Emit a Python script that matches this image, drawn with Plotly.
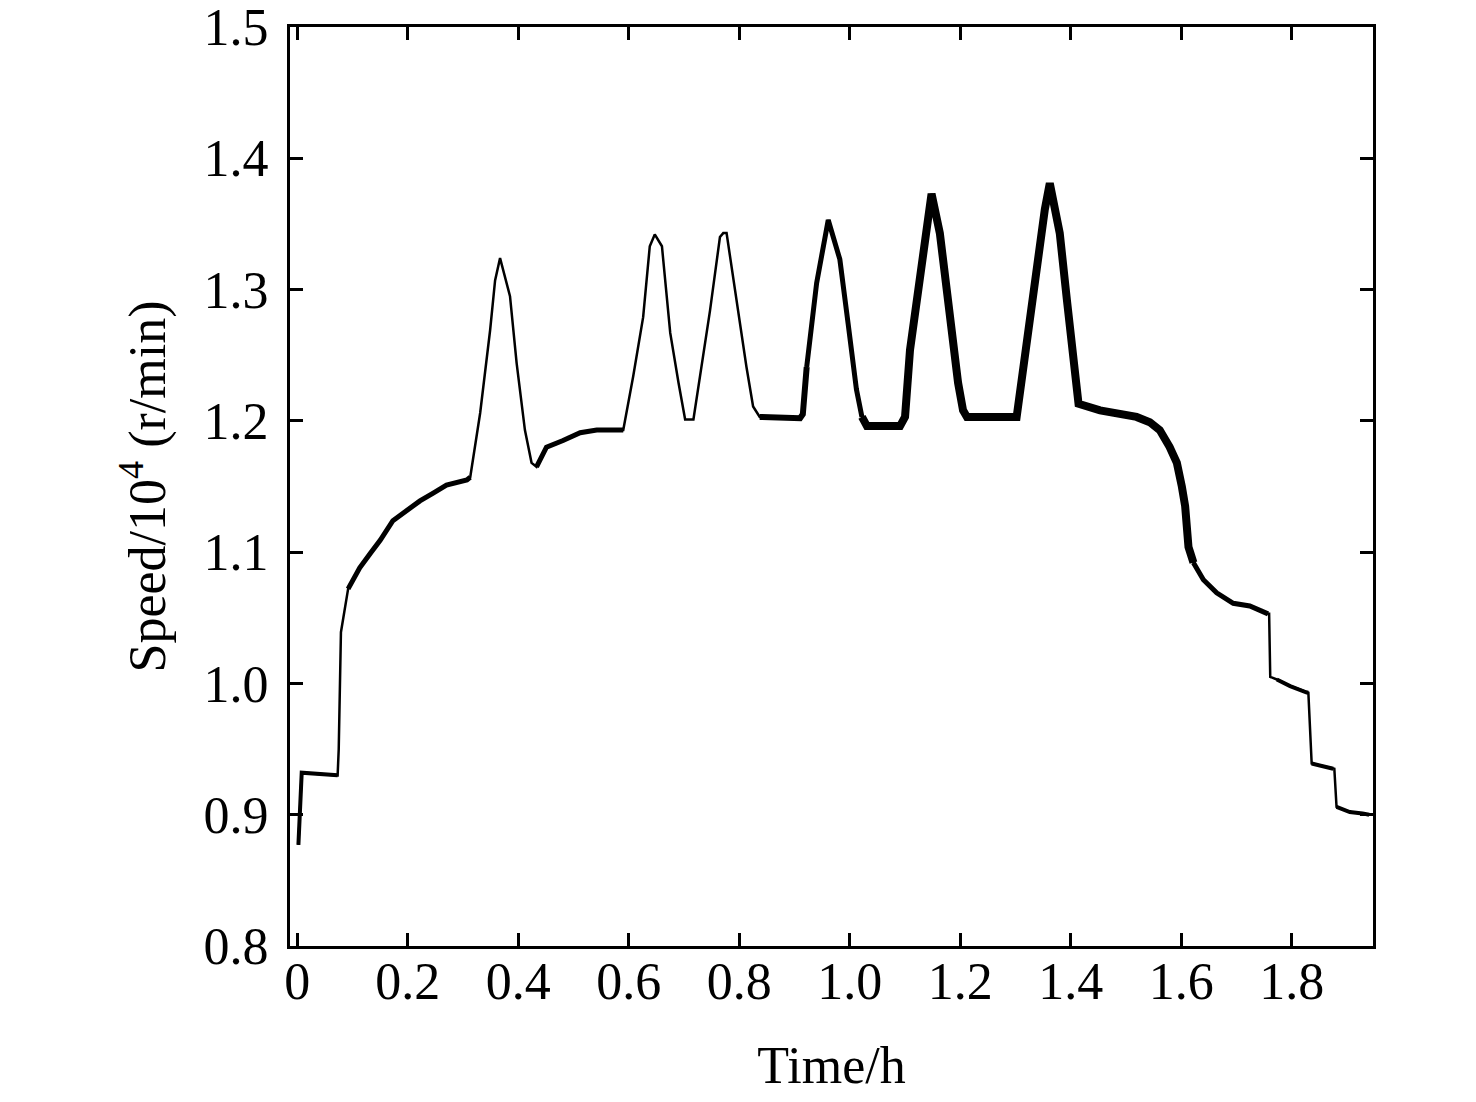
import plotly.graph_objects as go

# time in hours, speed in 10^4 r/min
time_h = [
    0.002, 0.008, 0.073, 0.075, 0.079, 0.092, 0.113, 0.132, 0.150, 0.173,
    0.198, 0.222, 0.246, 0.270, 0.307, 0.313,
    0.331, 0.349, 0.358, 0.367, 0.385, 0.397, 0.412, 0.424, 0.433,
    0.451, 0.481, 0.512, 0.542, 0.590,
    0.608, 0.626, 0.638, 0.647, 0.660, 0.675, 0.690, 0.702, 0.717,
    0.729, 0.747, 0.765, 0.771, 0.777, 0.795, 0.813, 0.825, 0.837, 0.910, 0.915,
    0.922, 0.940, 0.961, 0.982, 0.997, 1.012, 1.022, 1.031, 1.091, 1.100,
    1.109, 1.127, 1.142, 1.148, 1.163, 1.181, 1.196, 1.205, 1.212, 1.302,
    1.314, 1.332, 1.353, 1.362, 1.380, 1.393, 1.405, 1.414, 1.453, 1.483,
    1.519, 1.543, 1.561, 1.579, 1.592, 1.601, 1.607, 1.613, 1.622, 1.640,
    1.664, 1.694, 1.724, 1.757, 1.759, 1.761, 1.773, 1.797, 1.827, 1.830,
    1.836, 1.857, 1.875, 1.877, 1.881, 1.905, 1.928, 1.940,
]
speed = [
    0.877, 0.932, 0.930, 0.950, 1.039, 1.072, 1.088, 1.099, 1.109, 1.124,
    1.132, 1.139, 1.145, 1.151, 1.155, 1.157,
    1.206, 1.269, 1.307, 1.324, 1.295, 1.244, 1.193, 1.168, 1.165,
    1.180, 1.185, 1.191, 1.193, 1.193,
    1.234, 1.279, 1.333, 1.342, 1.333, 1.267, 1.229, 1.201, 1.201,
    1.234, 1.284, 1.340, 1.343, 1.343, 1.292, 1.241, 1.211, 1.203, 1.202, 1.205,
    1.241, 1.305, 1.353, 1.323, 1.274, 1.224, 1.203, 1.196, 1.196, 1.203,
    1.254, 1.305, 1.356, 1.373, 1.343, 1.279, 1.229, 1.208, 1.203, 1.203,
    1.241, 1.305, 1.361, 1.381, 1.343, 1.292, 1.241, 1.213, 1.208, 1.206,
    1.203, 1.199, 1.193, 1.180, 1.168, 1.150, 1.135, 1.104, 1.092, 1.079,
    1.069, 1.061, 1.059, 1.053, 1.053, 1.005, 1.003, 0.998, 0.993, 0.993,
    0.939, 0.937, 0.935, 0.935, 0.906, 0.902, 0.901, 0.900,
]

x_ticks = [0, 0.2, 0.4, 0.6, 0.8, 1.0, 1.2, 1.4, 1.6, 1.8]
x_labels = ["0", "0.2", "0.4", "0.6", "0.8", "1.0", "1.2", "1.4", "1.6", "1.8"]
y_ticks = [0.8, 0.9, 1.0, 1.1, 1.2, 1.3, 1.4, 1.5]

# stretches where the recorded signal is noisy, drawn as a thicker trace
noisy_spans = [(0.002, 0.073, 4), (0.088, 0.315, 5), (0.43, 0.60, 5),
               (0.83, 0.922, 6), (0.922, 1.022, 5), (1.022, 1.622, 8),
               (1.622, 1.757, 5), (1.77, 1.83, 4), (1.835, 1.876, 4),
               (1.88, 1.94, 4)]


def span(lo, hi):
    pts = [(t, s) for t, s in zip(time_h, speed) if lo <= t <= hi]
    return [p[0] for p in pts], [p[1] for p in pts]


fig = go.Figure()
fig.add_trace(go.Scatter(x=time_h, y=speed, mode="lines",
                         line=dict(color="black", width=2.5)))
for lo, hi, w in noisy_spans:
    xs, ys = span(lo, hi)
    fig.add_trace(go.Scatter(x=xs, y=ys, mode="lines",
                             line=dict(color="black", width=w)))

axis_style = dict(
    showline=True, linecolor="black", linewidth=3, mirror="ticks",
    ticks="inside", ticklen=13, tickwidth=3, tickcolor="black",
    showgrid=False, zeroline=False, ticklabeloverflow="allow",
    automargin=False,
    tickfont=dict(family="Liberation Serif", size=52, color="black"),
)

# page body adds ~8px around the figure, so the figure is a bit smaller
fig.update_layout(
    width=1460, height=1086,
    margin=dict(l=282, r=95, t=19, b=148),
    paper_bgcolor="white", plot_bgcolor="white",
    showlegend=False,
    font=dict(family="Liberation Serif", color="black"),
    xaxis=dict(range=[-0.0132, 1.947], tickvals=x_ticks, ticktext=x_labels,
               ticklabelstandoff=-12,
               title=dict(text="Time/h", font=dict(size=52), standoff=40),
               **axis_style),
    yaxis=dict(range=[0.8, 1.5], tickvals=y_ticks, tickformat=".1f",
               ticklabelstandoff=8,
               title=dict(text="Speed/10<sup>4</sup> (r/min)", font=dict(size=52), standoff=22),
               **axis_style),
)

fig.write_html("out.html")
